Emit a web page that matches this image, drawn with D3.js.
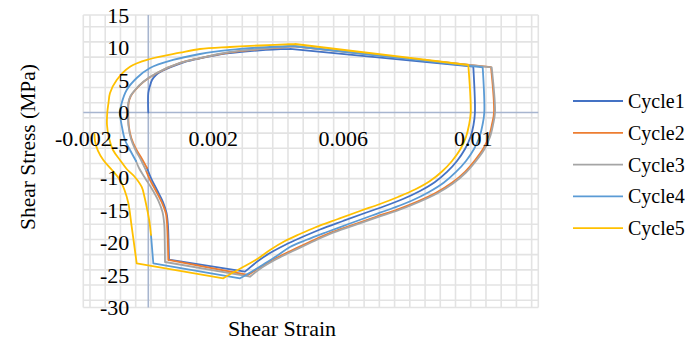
<!DOCTYPE html>
<html><head><meta charset="utf-8">
<script src="https://cdn.jsdelivr.net/npm/d3@7/dist/d3.min.js"></script>
<style>body{margin:0;background:#fff}svg{display:block}</style>
</head><body><div id="chart"></div>
<script>
const seriesNames = ["Cycle1","Cycle2","Cycle3","Cycle4","Cycle5"];
const seriesColors = ["#4472C4","#ED7D31","#A5A5A5","#5B9BD5","#FFC000"];
const strainTicks = [-0.002, 0.002, 0.006, 0.01];
const strainTickLabels = ["-0.002","0.002","0.006","0.01"];
const stressTicks = [15,10,5,0,-5,-10,-15,-20,-25,-30];

const cycle1 = [[0,0],[0,3.0],[0.00005,4.08],[0.000114,5.0],[0.000237,5.77],[0.000422,6.38],[0.000668,6.92],[0.00113,7.77],[0.00159,8.31],[0.00242,9.08],[0.00344,9.57],[0.00436,9.8],[0.0100,7.05],[0.01005,0],[0.010006,-1.92],[0.009914,-3.77],[0.009745,-5.62],[0.009498,-7.46],[0.009191,-9.15],[0.008822,-10.69],[0.00836,-12.08],[0.007837,-13.31],[0.007283,-14.38],[0.006668,-15.46],[0.005991,-16.69],[0.005283,-18.0],[0.004668,-19.31],[0.004206,-20.38],[0.003745,-21.62],[0.003375,-22.85],[0.002975,-24.49],[0.000637,-22.62],[0.000622,-19.62],[0.000606,-17.46],[0.00056,-15.46],[0.000452,-13.77],[0.000268,-11.92],[0.000083,-10.08],[-0.00004,-8.54]];
const cycle2 = [[-0.00004,-8.54],[-0.000194,-7.15],[-0.000378,-5.62],[-0.000523,-3.92],[-0.0006,-2.08],[-0.000615,0],[-0.000606,1.46],[-0.000538,2.54],[-0.0004,3.46],[-0.000154,4.69],[0.000268,6.08],[0.000985,7.62],[0.0016,8.38],[0.002514,9.26],[0.003437,9.74],[0.004452,10.17],[0.010545,6.97],[0.010637,0],[0.010575,-1.81],[0.010483,-3.66],[0.010314,-5.51],[0.010052,-7.35],[0.009744,-9.12],[0.009344,-10.81],[0.008852,-12.35],[0.008298,-13.66],[0.007683,-14.89],[0.007006,-16.04],[0.006298,-17.27],[0.00556,-18.58],[0.004944,-19.97],[0.004421,-21.2],[0.00392,-22.43],[0.003467,-23.74],[0.003068,-25.0],[0.000615,-22.69],[0.0006,-19.62],[0.000585,-17.77],[0.000545,-15.62],[0.000422,-13.92],[0.000237,-12.08],[0.000052,-10.38],[-0.000071,-8.92]];
const cycle3 = [[-0.000071,-8.92],[-0.000225,-7.31],[-0.000394,-5.77],[-0.000532,-4.08],[-0.000609,-2.08],[-0.000625,0],[-0.000615,1.46],[-0.000548,2.54],[-0.000409,3.46],[-0.000163,4.69],[0.000258,6.08],[0.000975,7.62],[0.001591,8.38],[0.002514,9.31],[0.003437,9.77],[0.004452,10.23],[0.010566,6.95],[0.010668,0],[0.010606,-1.92],[0.010514,-3.77],[0.010345,-5.62],[0.010083,-7.46],[0.009775,-9.23],[0.009375,-10.92],[0.008883,-12.46],[0.008329,-13.77],[0.007714,-15.0],[0.007037,-16.15],[0.006329,-17.38],[0.005591,-18.69],[0.004975,-20.08],[0.004452,-21.31],[0.003951,-22.54],[0.003498,-23.85],[0.003129,-25.26],[0.000514,-23.0],[0.000505,-19.62],[0.000492,-17.31],[0.000437,-15.31],[0.000314,-13.62],[0.000114,-11.77],[-0.000102,-10.08],[-0.000286,-8.54],[-0.000378,-7.46]];
const cycle4 = [[-0.000378,-7.46],[-0.000563,-5.77],[-0.000717,-4.23],[-0.000809,-2.23],[-0.000871,0],[-0.000818,1.46],[-0.000665,3.46],[-0.000357,5.31],[0.000052,6.85],[0.00076,8.08],[0.001591,9.0],[0.002514,9.62],[0.003437,10.0],[0.004452,10.23],[0.010289,6.95],[0.010338,0],[0.010283,-1.92],[0.010191,-3.77],[0.010022,-5.62],[0.009775,-7.46],[0.009468,-9.15],[0.009098,-10.77],[0.008637,-12.23],[0.008114,-13.54],[0.007529,-14.69],[0.006883,-15.85],[0.006206,-17.08],[0.005498,-18.38],[0.004852,-19.62],[0.00436,-20.69],[0.003951,-22.08],[0.00356,-23.31],[0.003191,-24.46],[0.002822,-25.51],[0.000154,-23.2],[0.000083,-18.85]];
const cycle5 = [[0.000083,-18.85],[0.000037,-16.85],[-0.000031,-15.0],[-0.000117,-13.0],[-0.000203,-11.46],[-0.00044,-9.77],[-0.000665,-8.69],[-0.000871,-7.31],[-0.001086,-5.77],[-0.001209,-3.92],[-0.001271,-1.92],[-0.001262,0],[-0.001225,1.46],[-0.001178,3.0],[-0.000972,5.0],[-0.000563,7.05],[0.000052,8.23],[0.000975,9.2],[0.001591,9.77],[0.002514,10.08],[0.003437,10.31],[0.004514,10.54],[0.009846,7.31],[0.00992,0],[0.009868,-1.92],[0.009775,-3.77],[0.009606,-5.62],[0.009345,-7.46],[0.009037,-9.08],[0.008668,-10.54],[0.008206,-11.85],[0.007683,-13.0],[0.007129,-14.08],[0.006514,-15.15],[0.005837,-16.38],[0.005129,-17.69],[0.004668,-18.69],[0.004206,-19.77],[0.003745,-21.15],[0.003375,-22.46],[0.002975,-23.62],[0.002606,-24.62],[0.002308,-25.51],[-0.000357,-23.2],[-0.000511,-17.57],[-0.000615,-13.92],[-0.000732,-11.92],[-0.000871,-10.38],[-0.001117,-8.85],[-0.001385,-7.31],[-0.001548,-5.92],[-0.00164,-4.38],[-0.001655,-3.31]];
const cycles = [cycle1, cycle2, cycle3, cycle4, cycle5];

const W = 685, H = 340;
const FONT = "Liberation Serif";
const plot = {left: 83.3, top: 15, width: 455, height: 292.5};
const x = d3.scaleLinear().domain([-0.002, 0.012]).range([plot.left, plot.left + plot.width]);
const y = d3.scaleLinear().domain([-30, 15]).range([plot.top + plot.height, plot.top]);

const svg = d3.select("#chart").append("svg").attr("width", W).attr("height", H);

// fine grid as in the source
const gx0 = -0.001794, gxStep = 0.0004686;
const gy0 = 13.2, gyStep = 2.338;
const vGrid = d3.range(0, 30).map(i => gx0 + i * gxStep);
const hGrid = d3.range(0, 19).map(i => gy0 - i * gyStep);
const grid = svg.append("g").attr("stroke", "#e3e3e3").attr("stroke-width", 1.6);
grid.selectAll(".v").data(vGrid.concat([-0.002, 0.012])).join("line")
  .attr("x1", d => x(d)).attr("x2", d => x(d)).attr("y1", y(15)).attr("y2", y(-30));
grid.selectAll(".h").data(hGrid.concat([15, -30])).join("line")
  .attr("y1", d => y(d)).attr("y2", d => y(d)).attr("x1", x(-0.002)).attr("x2", x(0.012));

const axisColor = "#a7b5cf";
svg.append("line").attr("x1", x(0)).attr("x2", x(0)).attr("y1", y(15)).attr("y2", y(-30))
  .attr("stroke", axisColor).attr("stroke-width", 1.6);
svg.append("line").attr("x1", x(-0.002)).attr("x2", x(0.012)).attr("y1", y(0)).attr("y2", y(0))
  .attr("stroke", axisColor).attr("stroke-width", 1.6);

// series: smooth between sharp corners
const seg = d3.line().x(d => x(d[0])).y(d => y(d[1])).curve(d3.curveCatmullRom.alpha(0.5));
function pieces(data) {
  const out = []; let cur = [data[0]];
  for (let i = 1; i < data.length; i++) {
    cur.push(data[i]);
    if (i < data.length - 1) {
      const ax = x(data[i][0]) - x(data[i-1][0]), ay = y(data[i][1]) - y(data[i-1][1]);
      const bx = x(data[i+1][0]) - x(data[i][0]), by = y(data[i+1][1]) - y(data[i][1]);
      const ang = Math.abs(Math.atan2(ax*by - ay*bx, ax*bx + ay*by)) * 180 / Math.PI;
      const la = Math.hypot(ax, ay), lb = Math.hypot(bx, by);
      if (ang > 32 || la > 4 * lb || lb > 4 * la) { out.push(cur); cur = [data[i]]; }
    }
  }
  out.push(cur);
  return out;
}
svg.append("g").selectAll("path").data(cycles).join("path")
  .attr("d", d => pieces(d).map(p => seg(p)).join(""))
  .attr("fill", "none")
  .attr("stroke", (d, i) => seriesColors[i]).attr("stroke-width", 1.8)
  .attr("stroke-linejoin", "round").attr("stroke-linecap", "round");

// tick labels
svg.append("g").selectAll("text").data(stressTicks).join("text")
  .style("font-family", FONT)
  .attr("x", x(0) - 19).attr("y", d => y(d)).attr("dy", "0.35em")
  .attr("text-anchor", "end").attr("font-size", 22).text(d => d);
svg.append("g").selectAll("text").data(strainTicks).join("text")
  .style("font-family", FONT)
  .attr("x", d => x(d)).attr("y", y(0) + 26).attr("dy", "0.35em")
  .attr("text-anchor", "middle").attr("font-size", 22).text((d, i) => strainTickLabels[i]);

// axis titles
svg.append("text").style("font-family", FONT).attr("x", 282).attr("y", 328).attr("dy", "0.35em")
  .attr("text-anchor", "middle").attr("font-size", 22).text("Shear Strain");
svg.append("text").style("font-family", FONT).attr("transform", "translate(27,147) rotate(-90)").attr("dy", "0.35em")
  .attr("text-anchor", "middle").attr("font-size", 21.5).text("Shear Stress (MPa)");

// legend
const lg = svg.append("g").selectAll("g").data(seriesNames).join("g")
  .attr("transform", (d, i) => `translate(573,${101 + i * 31.8})`);
lg.append("line").attr("x1", 0).attr("x2", 50).attr("y1", 0).attr("y2", 0)
  .attr("stroke", (d, i) => seriesColors[i]).attr("stroke-width", 1.8);
lg.append("text").style("font-family", FONT).attr("x", 55).attr("y", 0).attr("dy", "0.35em")
  .attr("font-size", 20).text(d => d);
</script></body></html>
